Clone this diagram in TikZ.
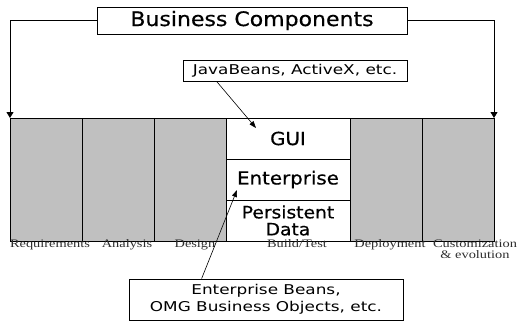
\documentclass[tikz,border=0pt]{standalone}
\usepackage{fontspec}
\setmainfont{Liberation Serif}
\newfontfamily\gsans[FakeStretch=1.1,FakeBold=0.6]{DejaVu Sans}
\newfontfamily\gsanswide[FakeStretch=1.25]{DejaVu Sans}
\newfontfamily\lblserif[FakeStretch=1.25]{Liberation Serif}
\usetikzlibrary{arrows.meta,positioning}
\definecolor{phasegray}{RGB}{192,192,192}
\definecolor{lblgray}{RGB}{45,45,45}

\begin{document}
\begin{tikzpicture}[x=1pt, y=-1pt,
  phase/.style={draw, fill=phasegray, line width=0.8pt, minimum width=72pt,
                minimum height=123pt, inner sep=0pt, outer sep=0pt},
  cell/.style={draw, fill=white, line width=0.8pt, minimum width=124pt,
               minimum height=41pt, inner sep=0pt, outer sep=0pt, align=center,
               font=\gsans\fontsize{18}{18}\selectfont},
  note/.style={draw, fill=white, line width=0.8pt, inner sep=0pt, align=center,
               font=\gsanswide\fontsize{13.5}{17}\selectfont},
  lbl/.style={inner sep=0pt, text=lblgray, align=center,
              font=\lblserif\fontsize{11.5}{11}\selectfont},
  arr/.style={-{Triangle[length=6pt,width=7pt]}, line width=0.8pt},
  ptr/.style={-{Triangle[length=7pt,width=5pt]}, line width=0.6pt}
]
\useasboundingbox (0,0) rectangle (517,322);

\node[draw, line width=0.8pt, minimum width=310pt, minimum height=27pt, inner sep=0pt,
      font=\gsans\fontsize{20}{20}\selectfont] (title) at (252,20.5)
  {Business Components};

\node[note, minimum width=224pt, minimum height=21pt] (jb) at (295,70.5)
  {JavaBeans, ActiveX, etc.};

% phases of the life cycle
\node[phase] (req) at (46,179.5) {};
\node[phase, right=0pt of req] (ana) {};
\node[phase, right=0pt of ana] (des) {};
\node[cell, anchor=north west] (gui) at (des.north east) {GUI};
\node[cell, below=0pt of gui] (ent) {Enterprise};
\node[cell, below=0pt of ent, font=\gsans\fontsize{17}{17}\selectfont] (per)
  {Persistent\\Data};
\node[phase, anchor=north west] (dep) at (gui.north east) {};
\node[phase, right=0pt of dep] (cus) {};

\node[lbl, below=-1.5pt of req, xshift=4pt] {Requirements};
\node[lbl, below=-1.5pt of ana, xshift=9pt] {Analysis};
\node[lbl, below=-1.5pt of des, xshift=5pt] {Design};
\node[lbl, below=-1.5pt of per, xshift=9pt] {Build/Test};
\node[lbl, below=-1.5pt of dep, xshift=4pt] {Deployment};
\node[lbl, below=-1.5pt of cus, xshift=17pt] {Customization\\\& evolution};

\node[note, minimum width=274pt, minimum height=41pt] (eb) at (266,299.5)
  {Enterprise Beans,\\OMG Business Objects, etc.};

\draw[arr] (title.west) -| (req.north west);
\draw[arr] (title.east) -| (cus.north east);
\draw[ptr] ([xshift=34pt]jb.south west) -- ([xshift=30pt,yshift=-10pt]gui.north west);
\draw[ptr] ([xshift=73pt]eb.north west) -- ([xshift=11pt,yshift=-10.5pt]ent.west);

\end{tikzpicture}
\end{document}
